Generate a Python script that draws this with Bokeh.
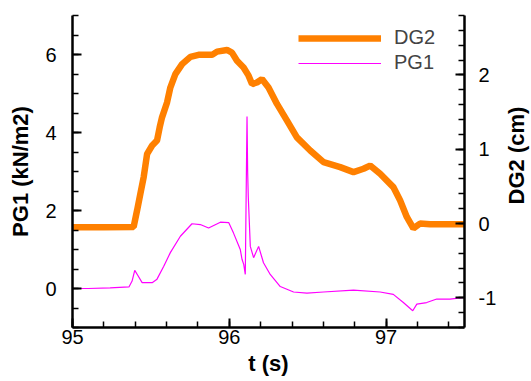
import math
from bokeh.plotting import figure
from bokeh.layouts import row
from bokeh.models import Range1d, LinearAxis, FixedTicker, Legend, LegendItem, Label
from bokeh.embed import file_html
from bokeh.resources import INLINE

# ---- data ----
t_dg2 = [95.00, 95.20, 95.39, 95.412, 95.433, 95.454, 95.476, 95.508, 95.539, 95.556,
         95.571, 95.603, 95.624, 95.656, 95.699, 95.752, 95.804, 95.89, 95.922, 95.985,
         96.017, 96.049, 96.091, 96.123, 96.145, 96.176, 96.208, 96.25, 96.304, 96.368,
         96.431, 96.516, 96.601, 96.707, 96.792, 96.856, 96.898, 96.962, 97.046, 97.089,
         97.132, 97.174, 97.217, 97.28, 97.50]
dg2 = [-0.05, -0.05, -0.046, 0.178, 0.402, 0.625, 0.938, 1.05, 1.117, 1.295,
       1.429, 1.63, 1.83, 2.01, 2.145, 2.243, 2.27, 2.27, 2.314, 2.336,
       2.30, 2.19, 2.10, 1.99, 1.877, 1.898, 1.944, 1.83, 1.61, 1.385,
       1.16, 0.983, 0.826, 0.759, 0.692, 0.737, 0.78, 0.67, 0.49, 0.312,
       0.088, -0.067, 0.0, -0.01, -0.01]

t_pg1 = [95.00, 95.10, 95.24, 95.36, 95.38, 95.397, 95.416, 95.444, 95.508, 95.539,
         95.582, 95.624, 95.688, 95.762, 95.815, 95.868, 95.943, 95.996, 96.027, 96.070,
         96.081, 96.092, 96.102, 96.113, 96.117, 96.121, 96.134, 96.155, 96.187, 96.218,
         96.261, 96.325, 96.41, 96.495, 96.601, 96.792, 96.962, 97.046, 97.110, 97.170,
         97.196, 97.259, 97.323, 97.408, 97.50]
pg1 = [0.0, 0.0, 0.015, 0.04, 0.19, 0.465, 0.34, 0.15, 0.15, 0.24,
       0.57, 0.92, 1.34, 1.66, 1.64, 1.55, 1.70, 1.69, 1.42, 1.0,
       0.75, 0.62, 0.36, 4.41, 3.0, 2.36, 1.08, 0.79, 1.08, 0.66,
       0.36, 0.05, -0.09, -0.12, -0.09, -0.04, -0.09, -0.15, -0.36, -0.57,
       -0.40, -0.36, -0.27, -0.27, -0.23]

x_major = [95, 96, 97]
x_minor = [round(95 + 0.2 * i, 1) for i in range(13)]
yl_major = [0, 2, 4, 6]
yl_minor = [-1 + 0.5 * i for i in range(17)]
yr_major = [-1, 0, 1, 2]
yr_minor = [round(-1.4 + 0.2 * i, 1) for i in range(22)]
yr_labels = {-1: "-1", 0: "0", 1: "1", 2: "2"}
right_title = "DG2 (cm)"

FONT = "Liberation Sans"
MAIN_W = 500
SIDE_W = 31
H = 381

p = figure(width=MAIN_W, height=H, output_backend="svg", toolbar_location=None,
           x_range=Range1d(95, 97.5), y_range=Range1d(-1, 7),
           min_border_left=72, min_border_right=MAIN_W - 464, min_border_top=15,
           min_border_bottom=54)
p.outline_line_color = None
p.grid.visible = False
p.extra_y_ranges = {"dg": Range1d(-1.4, 2.8)}

r_dg = p.line(t_dg2, dg2, y_range_name="dg", line_color="#FF8000", line_width=6.5)
r_pg = p.line(t_pg1, pg1, line_color="#FF00FF", line_width=1.2)

yr_axis = LinearAxis(y_range_name="dg")
p.add_layout(yr_axis, "right")


def style(ax, major, minor, label, standoff, label_standoff):
    ax.ticker = FixedTicker(ticks=major, minor_ticks=minor)
    if label:
        ax.axis_label = label
    ax.axis_line_width = 2.5
    ax.axis_line_color = "black"
    ax.major_tick_in = 9
    ax.major_tick_out = 0
    ax.minor_tick_in = 6
    ax.minor_tick_out = 0
    ax.major_tick_line_width = 2
    ax.minor_tick_line_width = 1.5
    ax.major_label_text_font = FONT
    ax.major_label_text_font_size = "20px"
    ax.major_label_text_color = "black"
    ax.major_label_standoff = standoff
    ax.axis_label_text_font = FONT
    ax.axis_label_text_font_size = "22px"
    ax.axis_label_text_font_style = "bold"
    ax.axis_label_text_color = "black"
    ax.axis_label_standoff = label_standoff


style(p.xaxis[0], x_major, x_minor, "t (s)", 2, 4)
style(p.yaxis[0], yl_major, yl_minor, "PG1 (kN/m2)", 16, 9)
style(yr_axis, yr_major, yr_minor, None, 14, 6)
yr_axis.major_label_overrides = yr_labels

legend = Legend(items=[LegendItem(label="DG2", renderers=[r_dg]),
                       LegendItem(label="PG1", renderers=[r_pg])],
                location=(226, 253), margin=0, padding=0, spacing=2,
                glyph_width=83, glyph_height=20, label_height=20, label_standoff=13,
                border_line_color=None, background_fill_alpha=0,
                label_text_font=FONT, label_text_font_size="20px")
p.add_layout(legend)

# narrow strip holding the right-hand axis title (reads bottom-to-top)
q = figure(width=SIDE_W, height=H, output_backend="svg", toolbar_location=None,
           x_range=Range1d(0, SIDE_W), y_range=Range1d(0, H),
           x_axis_type=None, y_axis_type=None,
           min_border=0, min_border_left=0, min_border_right=0,
           min_border_top=0, min_border_bottom=0)
q.outline_line_color = None
q.grid.visible = False
q.add_layout(Label(x=516 - MAIN_W, y=H - 171, text=right_title, angle=math.pi / 2,
                   text_align="center", text_baseline="middle",
                   text_font=FONT, text_font_size="22px", text_font_style="bold",
                   text_color="black"))

layout = row(p, q, spacing=0)
open("out.html", "w").write(file_html(layout, INLINE))
